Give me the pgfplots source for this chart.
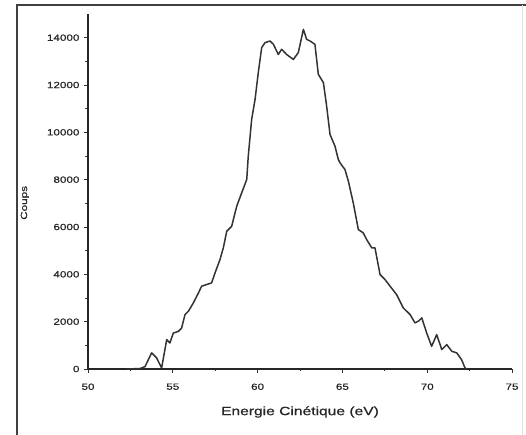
\documentclass[border=0pt]{standalone}
\usepackage{pgfplots}
\pgfplotsset{compat=1.18}
\usepackage{fontspec}
\setmainfont{Liberation Sans}
\newfontfamily\widefont[FakeStretch=1.3,FakeBold=0.6]{Liberation Sans}
\begin{document}
\begin{tikzpicture}[x=1pt,y=1pt]
\useasboundingbox (-88,-66) rectangle (438,369);
\fill[white] (-88,-66) rectangle (438,369);
\draw[line width=1.3pt, black!75] (-71,-70) -- (-71,364) -- (440,364);
\draw[line width=0.6pt, black!12] (434,364) -- (434,-70);
\begin{axis}[
  at={(0,0)}, anchor=origin,
  scale only axis,
  width=424pt, height=355pt,
  xmin=50, xmax=75, ymin=0, ymax=15000,
  axis x line=bottom, axis y line=left,
  axis line style={-, line width=1.1pt, black!85},
  xtick={50,55,...,75},
  ytick={0,2000,...,14000},
  minor x tick num=1, minor y tick num=1,
  tick align=outside,
  major tick length=4pt, minor tick length=2.5pt,
  tick style={line width=0.8pt, black!80},
  /pgf/number format/assume math mode=true,
  /pgf/number format/1000 sep={},
  scaled y ticks=false,
  tick label style={font=\widefont\fontsize{9}{10}\selectfont, text=black!85},
  xticklabel style={yshift=-7pt},
  yticklabel style={xshift=-1pt},
  xlabel={Energie Cinétique (eV)},
  ylabel={Coups},
  xlabel style={at={(axis description cs:0.5,-0.121)}, anchor=center, font=\widefont\fontsize{12}{14}\selectfont, text=black!85},
  ylabel style={at={(axis description cs:-0.149,0.468)}, anchor=center, font=\widefont\fontsize{9}{11}\selectfont, text=black!85},
  clip=false,
]
\addplot[line width=1.5pt, black!80, line join=round] coordinates {
(52.3,0) (53.07,20) (53.36,100) (53.75,680) (54.05,465) (54.34,40)
(54.64,1240) (54.83,1100) (55.03,1520) (55.33,1590) (55.52,1730)
(55.72,2300) (55.92,2440) (56.21,2790) (56.51,3210) (56.70,3500)
(57.0,3570) (57.29,3640) (57.49,4060) (57.78,4620) (57.98,5120)
(58.18,5820) (58.47,6030) (58.77,6880) (59.06,7440) (59.36,8010)
(59.45,9000) (59.65,10550) (59.85,11390) (60.04,12520) (60.24,13580)
(60.44,13790) (60.73,13860) (60.93,13720) (61.22,13290) (61.42,13510)
(61.71,13290) (62.11,13080) (62.40,13370) (62.70,14350) (62.89,13930)
(63.09,13860) (63.38,13720) (63.58,12450) (63.88,12100) (64.07,11110)
(64.27,9910) (64.56,9420) (64.76,8850) (64.86,8710) (65.15,8430)
(65.35,7940) (65.64,7020) (65.94,5890) (66.23,5750) (66.43,5470)
(66.73,5120) (66.92,5120) (67.22,3990) (67.51,3780) (67.81,3500)
(68.20,3140) (68.59,2580) (68.99,2300) (69.28,1950) (69.48,2020)
(69.68,2160) (69.97,1520) (70.26,960) (70.56,1450) (70.86,820)
(71.15,1030) (71.45,750) (71.74,680) (72.03,390) (72.23,40) (72.33,0)
};
\end{axis}
\end{tikzpicture}
\end{document}
